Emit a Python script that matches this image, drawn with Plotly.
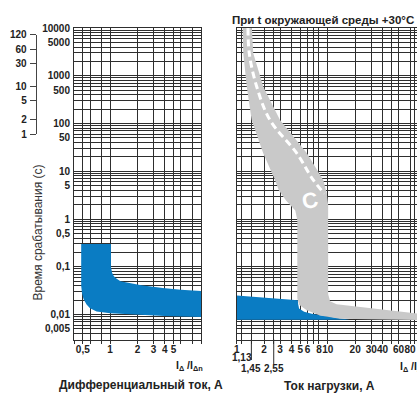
import math
import plotly.graph_objects as go

# ---------------- data ----------------
y_tick_vals = [10000, 5000, 1000, 500, 100, 50, 10, 5, 1, 0.5, 0.1, 0.01, 0.005]
y_tick_text = ['10000', '5000', '1000', '500', '100', '50', '10', '5', '1',
               '0,5', '0,1', '0,01', '0,005']
y_grid_mantissa = [1, 2, 3, 4, 5, 6, 7, 8, 9]
y_grid_decades = [-3, -2, -1, 0, 1, 2, 3]
y_min, y_max = 0.003, 10000

min_tick_sec = [7200, 3600, 1800, 600, 300, 120, 60]
min_tick_text = ['120', '60', '30', '10', '5', '2', '1']

left_x_ticks = [0.5, 1, 2, 3, 4, 5]
left_x_text = ['0,5', '1', '2', '3', '4', '5']
left_x_minor = [0.4, 0.6, 0.8, 6, 8, 10]
right_x_ticks = [1, 2, 3, 4, 5, 6, 8, 10, 20, 30, 40, 60, 80]
right_x_text = ['1', '2', '3', '4', '5', '6', '8', '10', '20', '30', '40', '60', '80']
right_x_minor = [1.13, 1.45, 2.55, 7, 50, 90]
extra_x_vals = [1.13, 1.45, 2.55]
extra_x_text = ['1,13', '1,45', '2,55']

# left panel: differential current band (blue)
blue_l_upper_x = [0.48, 1.02, 1.02, 1.05, 1.1, 1.18, 1.3, 1.66, 2.2, 3.8, 6, 10.5]
blue_l_upper_t = [0.3, 0.3, 0.1, 0.075, 0.063, 0.056, 0.05, 0.045, 0.041, 0.036, 0.033, 0.031]
blue_l_lower_x = [10.5, 4, 2, 1, 0.71, 0.6, 0.55, 0.51, 0.49, 0.48]
blue_l_lower_t = [0.0088, 0.0093, 0.0099, 0.0107, 0.0116, 0.0135, 0.0162, 0.021, 0.028, 0.04]

# right panel: blue band
blue_r_upper_x = [1, 4.7, 4.72, 4.84, 5.5, 6.67, 9.34, 13, 17.5]
blue_r_upper_t = [0.025, 0.0198, 0.017, 0.0134, 0.0115, 0.0104, 0.0093, 0.0086, 0.008]
blue_r_lower_x = [17.5, 1]
blue_r_lower_t = [0.0078, 0.0078]

# right panel: C characteristic band (gray)
gray_right_x = [1.46, 1.52, 1.96, 2.99, 5.88, 8.95, 9.75, 10.1, 10.1, 10.6, 12.5, 30, 110]
gray_right_t = [12000, 2951, 589, 118, 24, 6.5, 3.47, 2.0, 0.027, 0.019, 0.0165, 0.0135, 0.0102]
gray_bottom_x = [110, 13.6, 8.2, 5.88, 4.85, 4.63]
gray_bottom_t = [0.0076, 0.0082, 0.0096, 0.0123, 0.016, 0.022]
gray_left_x = [4.63, 4.4, 3.5, 2.9, 2.6, 1.95, 1.46, 1.29, 1.18, 1.16]
gray_left_t = [0.94, 1.5, 2.4, 4.0, 7.0, 24, 118, 589, 2951, 12000]

dash_x = [1.33, 1.375, 1.66, 2.32, 4.56, 6.95, 9.18]
dash_t = [10000, 2951, 589, 118, 24, 6.5, 3.43]

c_label_x, c_label_t = 6.4, 2.48

# ---------------- styling / layout helpers ----------------
W, H = 417, 394
BLUE = '#0a7cc3'
GRAY = '#c9c9c9'
GRID = '#2e2e2e'
TXT = '#222222'
FONT = 'Liberation Sans, Arial, sans-serif'


def fx(p):
    return p / W


def fy(p):
    return 1 - p / H


top_px, bot_px = 28.0, 339.5
lo, hi = math.log10(y_min), math.log10(y_max)


def t_to_px(t):
    return top_px + (hi - math.log10(t)) / (hi - lo) * (bot_px - top_px)


y_grid = [m * 10 ** d for d in y_grid_decades for m in y_grid_mantissa]
y_grid = [v for v in y_grid if y_min * 0.999 <= v <= y_max * 1.001] + [y_max]
y_minor = [v for v in y_grid if all(abs(v - tv) / tv > 1e-6 for tv in y_tick_vals)]

fig = go.Figure()

fig.add_trace(go.Scatter(
    x=blue_l_upper_x + blue_l_lower_x, y=blue_l_upper_t + blue_l_lower_t,
    fill='toself', fillcolor=BLUE, line=dict(width=0), mode='lines',
    xaxis='x', yaxis='y', hoverinfo='skip', showlegend=False))

fig.add_trace(go.Scatter(
    x=blue_r_upper_x + blue_r_lower_x, y=blue_r_upper_t + blue_r_lower_t,
    fill='toself', fillcolor=BLUE, line=dict(width=0), mode='lines',
    xaxis='x2', yaxis='y2', hoverinfo='skip', showlegend=False))

fig.add_trace(go.Scatter(
    x=gray_right_x + gray_bottom_x + gray_left_x,
    y=gray_right_t + gray_bottom_t + gray_left_t,
    fill='toself', fillcolor=GRAY, line=dict(width=0), mode='lines',
    xaxis='x2', yaxis='y2', hoverinfo='skip', showlegend=False))

fig.add_trace(go.Scatter(
    x=dash_x, y=dash_t, mode='lines',
    line=dict(color='white', width=3, dash='7px,4px', shape='spline'),
    xaxis='x2', yaxis='y2', hoverinfo='skip', showlegend=False))

# invisible trace so the minutes axis is drawn
fig.add_trace(go.Scatter(
    x=[1], y=[min_tick_sec[-1]], mode='markers', marker=dict(opacity=0),
    xaxis='x', yaxis='y3', hoverinfo='skip', showlegend=False))

tickfont = dict(family=FONT, size=10, color=TXT, weight='bold')


def minor_of(vals, ticks=''):
    return dict(tickmode='array', tickvals=vals, showgrid=True, gridcolor=GRID,
                gridwidth=1, ticks=ticks, ticklen=3, tickcolor=GRID, tickwidth=1)


common_x = dict(type='log', showgrid=True, gridcolor=GRID, gridwidth=1,
                ticks='outside', ticklen=3, tickcolor=GRID, tickwidth=1,
                tickfont=tickfont, zeroline=False, tickmode='array',
                tickangle=0, automargin=False, ticklabelstandoff=-3,
                showline=True, linecolor=GRID, linewidth=1, mirror=True)
common_y = dict(type='log', showgrid=True, gridcolor=GRID, gridwidth=1,
                range=[lo, hi], domain=[fy(bot_px), fy(top_px)],
                tickmode='array', tickvals=y_tick_vals, ticktext=y_tick_text,
                minor=minor_of(y_minor), automargin=False,
                zeroline=False, showline=True, linecolor=GRID, linewidth=1,
                mirror=True, ticks='', tickfont=tickfont)

sec_lo = min(min_tick_sec)
sec_hi = max(min_tick_sec)

fig.update_layout(
    width=W, height=H, autosize=False,
    margin=dict(l=0, r=0, t=0, b=0, pad=0),
    paper_bgcolor='white', plot_bgcolor='rgba(0,0,0,0)',
    showlegend=False,
    font=dict(family=FONT, color=TXT),
    xaxis=dict(common_x, domain=[fx(74), fx(201)],
               range=[math.log10(0.4), 1.0],
               tickvals=left_x_ticks, ticktext=left_x_text,
               minor=minor_of(left_x_minor, 'outside'), anchor='y'),
    yaxis=dict(common_y, anchor='x', ticklabelstandoff=1),
    xaxis2=dict(common_x, domain=[fx(236.7), 1.0], range=[0, 1.98],
                tickvals=right_x_ticks, ticktext=right_x_text,
                minor=minor_of(right_x_minor, 'outside'), anchor='y2'),
    yaxis2=dict(common_y, anchor='x2', showticklabels=False),
    yaxis3=dict(type='log', anchor='free', position=fx(35.7), side='left',
                domain=[fy(t_to_px(sec_lo)), fy(t_to_px(sec_hi))],
                range=[math.log10(sec_lo), math.log10(sec_hi)],
                tickmode='array', tickvals=min_tick_sec, ticktext=min_tick_text,
                ticks='outside', ticklen=6, tickcolor='#444', tickwidth=1,
                showline=True, linecolor='#444', linewidth=1, automargin=False,
                showgrid=False, zeroline=False, tickfont=tickfont,
                ticklabelstandoff=1),
)

ann = []


def add_text(text, xp, yp, size=12, bold=True, xanchor='center', angle=0, color=TXT):
    ann.append(dict(text=text, x=fx(xp), y=fy(yp), xref='paper', yref='paper',
                    showarrow=False, xanchor=xanchor, yanchor='middle',
                    textangle=angle,
                    font=dict(family=FONT, size=size, color=color,
                              weight='bold' if bold else 'normal')))


add_text('При t окружающей среды +30°C', 322.5, 20, size=11.5)
add_text('Дифференциальный ток, А', 141, 385, size=12)
add_text('Ток нагрузки, А', 329, 386, size=12)
add_text('Время срабатывания (с)', 37.5, 233, size=12, bold=False, angle=-90, color='#333')
add_text('I<sub>Δ</sub> /I<sub>Δn</sub>', 189, 366, size=10.5)
add_text('I<sub>Δ</sub> /I<sub>Δn</sub>', 398, 367, size=10.5, xanchor='left')

extra_y = [357, 368, 368]
for xv, tx, yp in zip(extra_x_vals, extra_x_text, extra_y):
    ann.append(dict(text=tx, x=math.log10(xv), xref='x2', y=fy(yp), yref='paper',
                    showarrow=False, xanchor='center', yanchor='middle',
                    font=dict(family=FONT, size=10, color=TXT, weight='bold')))

ann.append(dict(text='C', x=math.log10(c_label_x), y=math.log10(c_label_t),
                xref='x2', yref='y2', showarrow=False, textangle=-12,
                font=dict(family=FONT, size=22, color='white', weight='bold')))

shapes = []
ext_len = {1.45: 360, 2.55: 364}
for xv in extra_x_vals[1:]:
    shapes.append(dict(type='line', xref='x2', yref='paper', x0=xv, x1=xv,
                       y0=fy(bot_px), y1=fy(ext_len[xv]),
                       line=dict(color=GRID, width=1)))

fig.update_layout(annotations=ann, shapes=shapes)

fig.write_html('out.html', config={'displayModeBar': False},
               post_script="document.body.style.margin='0';document.body.style.overflow='hidden';")
